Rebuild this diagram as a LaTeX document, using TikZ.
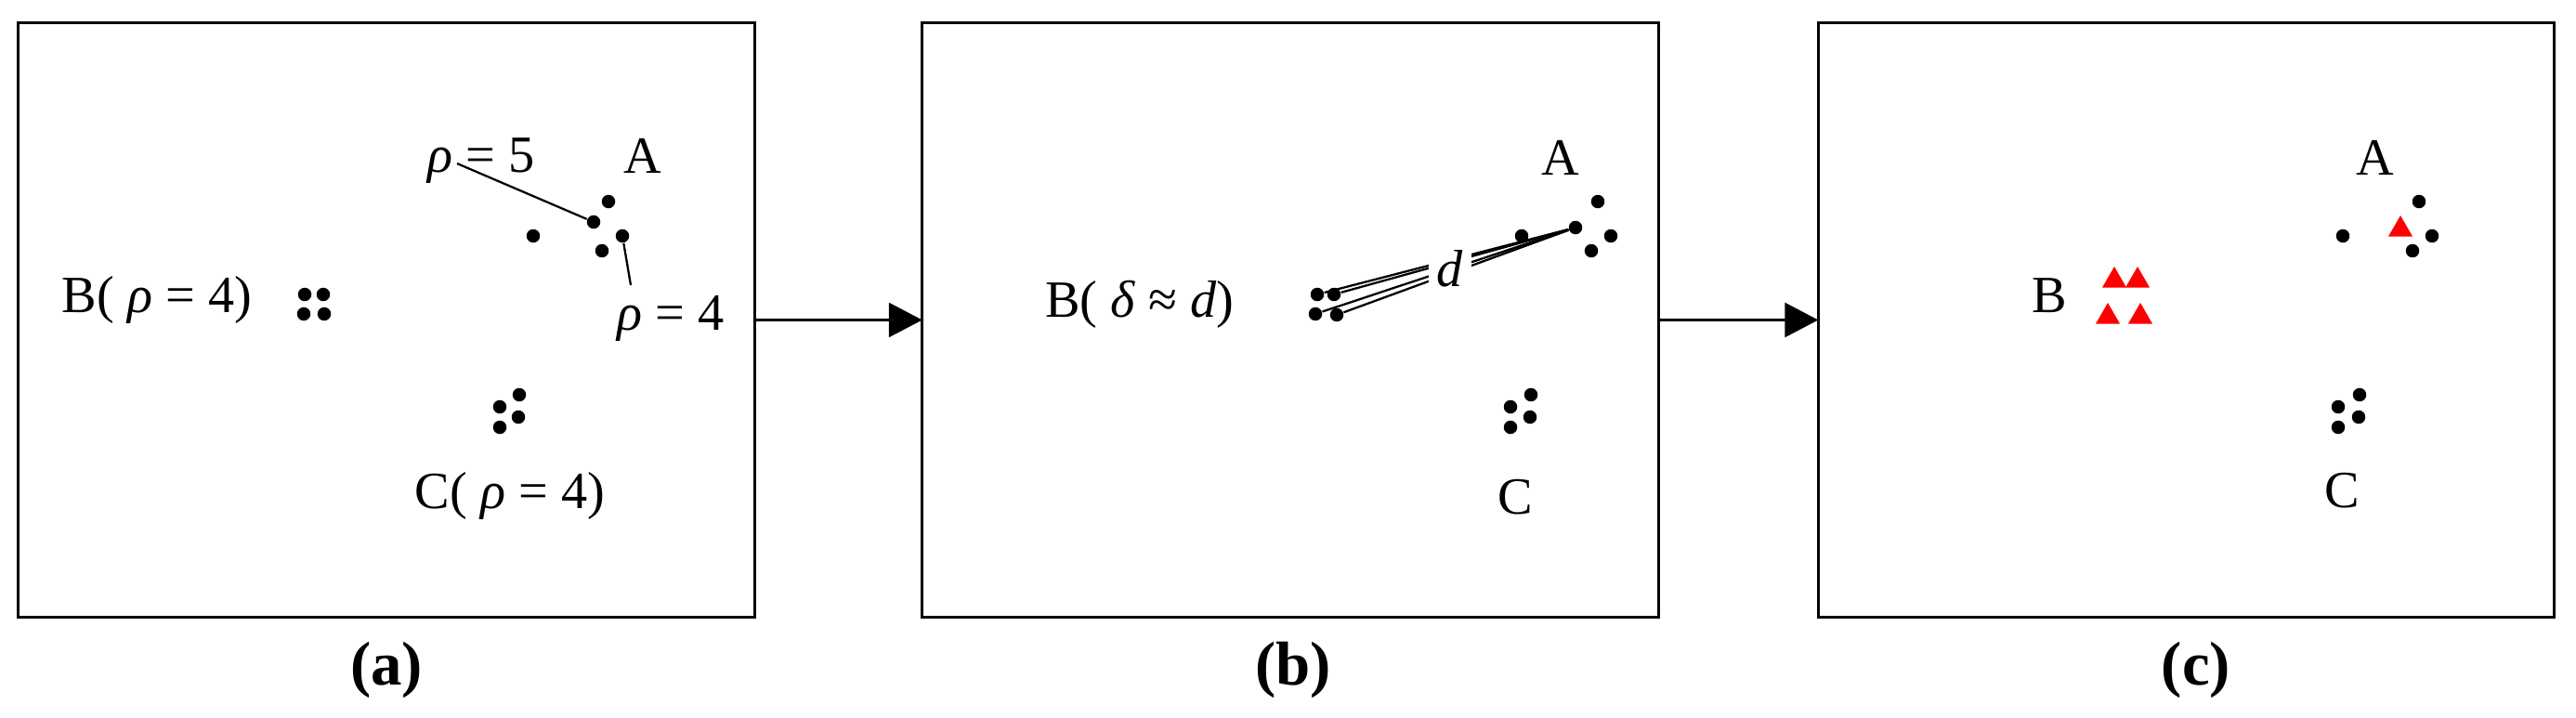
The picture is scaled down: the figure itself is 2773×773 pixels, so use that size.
\documentclass[tikz,border=0pt]{standalone}
\usepackage{fontspec}
\setmainfont{Liberation Serif}
\usetikzlibrary{arrows.meta,shapes.geometric}
\begin{document}
\begin{tikzpicture}[x=0.01cm,y=-0.01cm,
  panel/.style={draw,line width=0.8pt,minimum width=7.92cm,minimum height=6.39cm,inner sep=0,outer sep=0},
  pt/.style={circle,fill=black,inner sep=0,minimum size=0.145cm},
  tri/.style={regular polygon,regular polygon sides=3,fill=red,inner sep=0,minimum size=0.30cm},
  lbl/.style={font=\fontsize{16}{19}\selectfont,inner sep=0},
  caption/.style={font=\fontsize{19}{23}\selectfont\bfseries,inner sep=0},
  link/.style={line width=0.65pt},
  flow/.style={line width=0.8pt,-{Triangle[length=0.36cm,width=0.37cm]}}
]
\useasboundingbox (0,0) rectangle (2773,773);
% panels
\node[panel] (pa) at (416,344.5) {};
\node[panel] (pb) at (1389,344.5) {};
\node[panel] (pc) at (2353.5,344.5) {};
\draw[flow] (pa.east) -- (pb.west);
\draw[flow] (pb.east) -- (pc.west);
\node[caption] (capa) at (416,721) {(a)};
\node[caption] (capb) at (1392,721) {(b)};
\node[caption] (capc) at (2364,721) {(c)};

% ---------- panel (a)
\node[pt] (aa1) at (655,217) {};
\node[pt] (aa2) at (639,239) {};
\node[pt] (aa3) at (574,254) {};
\node[pt] (aa4) at (670,254) {};
\node[pt] (aa5) at (648,270) {};
\node[pt] (ab1) at (328,317) {};
\node[pt] (ab2) at (348,317) {};
\node[pt] (ab3) at (327,338) {};
\node[pt] (ab4) at (349,338) {};
\node[pt] (ac1) at (559,425) {};
\node[pt] (ac2) at (538,438) {};
\node[pt] (ac3) at (558,449) {};
\node[pt] (ac4) at (538,460) {};
\node[lbl] (alA) at (692,168) {A};
\node[lbl] (alr5) at (518,173) {\textit{ρ} = 5};
\node[lbl] (alr4) at (722,343) {\textit{ρ} = 4};
\node[lbl] (alB) at (169,323) {B( \textit{ρ} = 4)};
\node[lbl] (alC) at (549,534) {C( \textit{ρ} = 4)};
\coordinate (r5end) at (492,176);
\coordinate (r4end) at (679,307);
\draw[link] (r5end) -- (aa2);
\draw[link] (aa4) -- (r4end);

% ---------- panel (b)
\node[pt] (ba1) at (1720,217) {};
\node[pt] (ba2) at (1696,245) {};
\node[pt] (ba3) at (1638,254) {};
\node[pt] (ba4) at (1734,254) {};
\node[pt] (ba5) at (1713,270) {};
\node[pt] (bb1) at (1418,317) {};
\node[pt] (bb2) at (1436,317) {};
\node[pt] (bb3) at (1416,338) {};
\node[pt] (bb4) at (1439,339) {};
\node[pt] (bc1) at (1648,425) {};
\node[pt] (bc2) at (1626,438) {};
\node[pt] (bc3) at (1647,449) {};
\node[pt] (bc4) at (1626,460) {};
\draw[link] (bb1) -- (ba2);
\draw[link] (bb2) -- (ba2);
\draw[link] (bb3) -- (ba2);
\draw[link] (bb4) -- (ba2);
\node[lbl,fill=white,inner xsep=2.5pt,inner ysep=1pt] (bld) at (1561,289) {\textit{d}};
\node[lbl] (blA) at (1680,170) {A};
\node[lbl] (blB) at (1227,328) {B( \textit{δ} ≈ \textit{d})};
\node[lbl] (blC) at (1631,535) {C};

% ---------- panel (c)
\node[pt] (ca1) at (2604,217) {};
\node[tri] (ca2) at (2584,247) {};
\node[pt] (ca3) at (2522,254) {};
\node[pt] (ca4) at (2618,254) {};
\node[pt] (ca5) at (2597,270) {};
\node[tri] (cb1) at (2276,302) {};
\node[tri] (cb2) at (2301,302) {};
\node[tri] (cb3) at (2269,341) {};
\node[tri] (cb4) at (2304,341) {};
\node[pt] (cc1) at (2540,425) {};
\node[pt] (cc2) at (2517,438) {};
\node[pt] (cc3) at (2539,449) {};
\node[pt] (cc4) at (2517,460) {};
\node[lbl] (clA) at (2557,170) {A};
\node[lbl] (clB) at (2206,318) {B};
\node[lbl] (clC) at (2521,528) {C};
\end{tikzpicture}
\end{document}
